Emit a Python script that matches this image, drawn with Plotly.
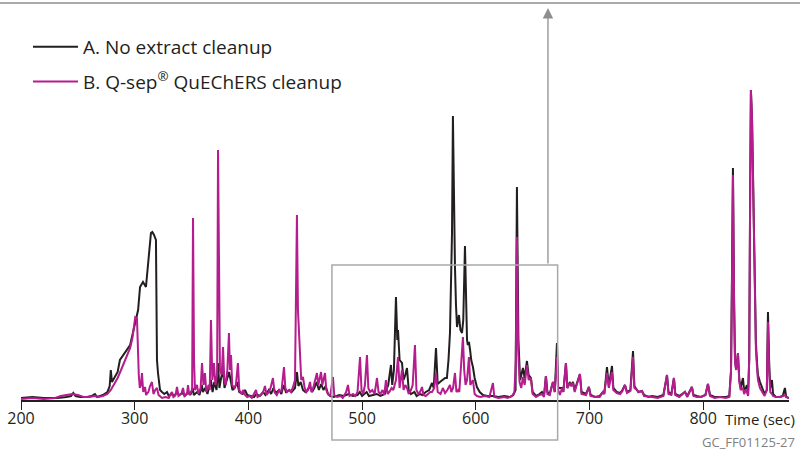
import plotly.graph_objects as go

# ---- data (time in s, detector response in arbitrary units) ----
trace_a_points = [
    (200,2),(210,3),(220,2),(232,2),(240,3),(244,4),(246,7),(248,4),(252,3),(258,3),(262,4),(265,6),(267,3),
    (272,5),(276,8),(278,14),(279,30),(280,18),(282,22),(285,28),(287,40),(290,45),(293,50),(296,55),(299,70),
    (301,80),(303,90),(304.7,113),(307.3,118),(309.9,113),(311.7,133),(313,150),(314.3,167),(315.5,168),(317,165),
    (318.7,160),(319.6,40),(320.5,27),(321.5,18),(322.3,10),(324,8),(326,6),(328.4,8),(330,4),(333,6),(335,4),
    (337,8),(339,5),(342,7),(344,4),(347,8),(349,5),(351,12),(352,5),(355,8),(357,5),(359,15),(360,8),(362,12),
    (364,6),(367,20),(368.5,8),(370,18),(372,10),(373.3,37),(374.5,12),(376,22),(377.7,30),(379,12),(381,20),
    (383,28),(384.7,18),(386,10),(388,12),(390,18),(392,8),(395,6),(397,10),(399,5),(402,4),(405,3),(407,6),
    (410,4),(413,8),(415,5),(418,10),(420,6),(422,12),(424,7),(427,10),(429,6),(431,15),(433,8),(436,10),
    (438,8),(441,12),(442.7,28),(444,14),(446,18),(448,10),(450,8),(452,10),(454,14),(456,8),(458,12),(460,18),
    (462,10),(464,16),(466,10),(468,14),(470,6),(472,4),(475,3),(480,5),(484,4),(488,6),(492,4),(496,5),(498,8),
    (500,4),(504,8),(506,4),(510,5),(513,6),(516,4),(520,6),(523,15),(525.4,35),(526.5,15),(528,30),(529.8,103),
    (531,60),(531.6,70),(533,40),(535.1,37),(536.5,20),(538,25),(539.5,32),(541,10),(543,6),(546,8),(548,4),
    (551,6),(553,5),(556,8),(559,10),(561.5,17),(563,12),(565,52),(566.5,16),(568.5,18),(571,20),(573,22),
    (574.6,22),(576,40),(577.3,67),(578.5,120),(579.1,167),(579.9,284),(580.8,200),(581.7,133),(582.6,95),
    (583.5,73),(585.2,85),(586.5,70),(587.9,67),(589,80),(590.5,154),(591.5,90),(592.3,60),(593,55),(594,58),
    (595,50),(596,40),(597.5,33),(599,22),(601,13),(603.5,8),(606.3,5),(610,4),(615,4),(620,3),(625,4),(630,3),
    (633,5),(635,10),(636.2,213),(637.5,60),(639,20),(641.5,32),(643,22),(645,39),(646.5,25),(648.5,22),(650,8),
    (653,4),(656,6),(658.2,8),(660,4),(661.7,24),(663,8),(665,6),(667.9,18),(669.5,8),(671.4,57),(672.5,12),
    (675.8,12),(677,8),(679.3,37),(680.5,12),(682.8,18),(684,14),(685.5,18),(687,10),(691.6,26),(693,8),(697,6),
    (699.5,13),(701,5),(705,3),(709,4),(711.9,8),(713,6),(715.4,33),(717,14),(719.8,34),(721,12),(724,8),(727,7),
    (729,10),(731.2,15),(733,8),(736,10),(738.3,49),(739.5,14),(741.8,10),(743,8),(746.2,9),(748,5),(752,3),
    (755,4),(760,3),(765,5),(768.2,25),(769.5,8),(772,6),(774.3,22),(775.5,6),(779,4),(784,8),(786,4),(790.1,13),
    (791.5,5),(794.5,4),(798,3),(802,5),(804.2,16),(806,5),(810,3),(815,3),(820,3),(823,4),(824.5,30),(825.3,120),
    (826.2,232),(827.2,100),(828,40),(829,30),(830.6,47),(831.8,20),(833,12),(835,22),(836,10),(837.5,12),
    (838.5,15),(839.5,5),(840.5,40),(841.3,200),(842,310),(843,280),(844,200),(845.5,117),(846.4,57),(847.5,35),
    (848.2,25),(850,18),(852.6,10),(854,6),(856,10),(857,88),(858,40),(859,12),(860.5,20),(861.5,6),(864,3),
    (867.5,3),(870,4),(871.9,12),(873,3),(875.5,2),
]

trace_b_points = [
    (200,1),(210,2),(220,1),(230,2),(235,4),(240,5),(245,6),(250,5),(255,3),(260,3),(265,4),(268,3),(272,4),
    (276,6),(279,10),(282,16),(285,22),(288,30),(291,38),(294,45),(296,52),(298,62),(299.4,75),(300.5,83),
    (302,82),(302.9,40),(303.6,25),(304.5,12),(305.5,15),(306.4,27),(307.5,8),(309.1,13),(310,5),(312,8),
    (313.5,14),(315.2,18),(316.5,6),(318,10),(319.6,12),(321,5),(322.3,4),(324,2),(327,3),(330,2),(331.5,6),
    (332.8,8),(334,3),(336,5),(337.2,13),(338.5,4),(341,6),(342.5,12),(343.8,4),(346,6),(346.9,15),(348,5),
    (350.5,10),(351.3,182),(352.2,40),(353,10),(354.8,15),(356,6),(358,12),(359.2,37),(360.5,15),(361.8,27),
    (363,8),(365,15),(366,10),(367.1,80),(368.3,20),(369.7,37),(371,15),(372.5,25),(373.3,250),(374.2,60),
    (375,30),(376.5,25),(377.7,53),(378.8,20),(380,15),(381.5,30),(382.9,67),(383.8,30),(384.7,45),(385.8,15),
    (387.5,12),(389,15),(390.8,37),(392,10),(394,6),(395.5,10),(397,5),(399,3),(401,4),(403,2),(405,6),
    (406.7,10),(408,3),(411,5),(413,8),(414.6,14),(416,5),(418,8),(419.5,12),(421.6,22),(423,8),(425,5),
    (427,10),(429,8),(431.3,33),(432.5,12),(434,8),(436,10),(437.5,8),(439,12),(441,20),(442.0,100),(442.7,185),
    (443.6,90),(444.5,65),(445.4,40),(446.5,20),(448,23),(449.5,12),(451,8),(452.5,10),(454.2,18),(455.5,8),
    (457,12),(458.5,20),(460.3,27),(461.5,15),(463.9,28),(465,15),(467.4,27),(468.5,10),(470,6),(472,4),
    (474.4,23),(475.5,5),(478,3),(481,4),(483,2),(486,8),(487.6,15),(489,4),(492,6),(494,4),(496,8),(498.2,43),
    (499.5,10),(501,6),(502.5,15),(504.3,45),(505.5,12),(507,8),(509,10),(511,6),(513.1,22),(514.5,8),(516,6),
    (518,10),(519.5,5),(521,20),(522.5,6),(524,8),(526,12),(527.5,10),(529.8,20),(531.6,43),(533,12),(535.1,30),
    (536.5,10),(538,15),(539.5,12),(541,6),(543,10),(544.5,15),(546.5,55),(547.8,10),(549.5,6),(551,8),
    (552.7,13),(554,5),(556,4),(558,6),(560,8),(561.5,8),(563.5,12),(565,27),(566.5,8),(569,6),(571,12),(573,7),
    (575,10),(577.3,15),(578.5,8),(580,12),(581.7,27),(583,8),(584.5,10),(585.5,8),(586.5,25),(587.9,50),
    (588.7,63),(589.8,30),(591,15),(592.3,20),(594,43),(595.2,15),(597.5,20),(599,6),(601,4),(604,3),(608,4),
    (612,3),(615.1,17),(616.3,3),(620,2),(625,3),(628,2),(632,4),(634,8),(635.2,40),(636.2,163),(637.3,50),
    (638.5,18),(640,12),(641.5,23),(643,15),(645,35),(646.5,20),(648.5,22),(650,6),(653,3),(656,5),(658.2,6),
    (660,3),(661.7,24),(663,6),(665,5),(666.5,12),(667.9,18),(669.5,8),(671.4,43),(672.5,10),(674,5),(675.8,12),
    (677,8),(679.3,37),(680.5,12),(682.8,17),(684,14),(685.5,17),(687,8),(691.6,26),(693,6),(697,5),(699.5,13),
    (701,4),(705,3),(709,3),(711.9,8),(713,6),(715.4,27),(717,12),(719.8,28),(721,10),(724,7),(727,6),(729,9),
    (731.2,15),(733,7),(736,9),(738.3,43),(739.5,12),(741.8,10),(743,8),(746.2,9),(748,4),(752,3),(755,3),
    (760,2),(765,4),(768.2,25),(769.5,6),(772,5),(774.3,22),(775.5,5),(779,3),(784,8),(786,3),(790.1,13),
    (791.5,4),(794.5,3),(798,3),(802,5),(804.2,16),(806,4),(810,2),(815,3),(820,2),(823,3),(824.5,28),
    (825.3,110),(826.2,225),(827.2,95),(828,38),(829,30),(830.6,47),(831.8,18),(833,10),(835,12),(836,6),
    (837.5,10),(838.5,8),(839.5,4),(840.5,40),(841.3,200),(842,310),(843,280),(844,200),(845.5,117),(846.4,50),
    (847.5,30),(848.2,20),(850,12),(852.6,6),(854,4),(856,10),(857,78),(858,30),(859,8),(860.5,6),(861.5,4),
    (864,3),(867.5,3),(870,4),(871.9,5),(873,3),(875.5,2),
]

series_names = ["A. No extract cleanup", "B. Q-sep<sup>\u00ae</sup> QuEChERS cleanup"]
series_colors = ["#231f20", "#b51c8d"]
tick_values = [200, 300, 400, 500, 600, 700, 800]
tick_labels = ["200", "300", "400", "500", "600", "700", "800"]
x_range = [200, 875.5]
y_range = [0, 400]
zoom_box = [473.5, 672]     # time window of the highlighted region
zoom_box_top = 135          # response level of the box top
arrow_x = 663.5
arrow_top = 392

FONT = "Open Sans"

fig = go.Figure()
for pts, name, col, grp in [(trace_a_points, series_names[0], series_colors[0], "a"),
                            (trace_b_points, series_names[1], series_colors[1], "b")]:
    fig.add_trace(go.Scatter(
        x=[p[0] for p in pts], y=[p[1] for p in pts], mode="lines", name=name,
        legendgroup=grp, line=dict(color=col, width=2), hoverinfo="skip"))

W, H = 800, 455
ml, mr, mt, mb = 21, 11, 0, 55
pw, ph = W - ml - mr, H - mt - mb

fig.update_layout(
    width=W, height=H, margin=dict(l=ml, r=mr, t=mt, b=mb),
    paper_bgcolor="white", plot_bgcolor="white",
    font=dict(family=FONT, color="#231f20"),
    showlegend=True,
    legend=dict(x=(28 - ml) / pw, y=(ph - 28) / ph, xanchor="left", yanchor="top",
                font=dict(size=19, family=FONT, color="#231f20"),
                bgcolor="rgba(0,0,0,0)", tracegroupgap=7, itemwidth=45),
    xaxis=dict(range=x_range, tickvals=tick_values, ticktext=tick_labels,
               showgrid=False, zeroline=False, showline=True, linecolor="#231f20",
               linewidth=1.5, ticks="outside", ticklen=8, tickwidth=1.2,
               tickcolor="#231f20", ticklabelstandoff=-5,
               tickfont=dict(size=16, family=FONT, color="#231f20")),
    yaxis=dict(range=y_range, visible=False, showgrid=False, zeroline=False),
)

# top border line
fig.add_shape(type="line", xref="paper", yref="paper",
              x0=-ml / pw, x1=1 + mr / pw, y0=(ph - 3) / ph, y1=(ph - 3) / ph,
              line=dict(color="#8e8e8e", width=1.5))
# highlighted region box
fig.add_shape(type="rect", xref="x", yref="paper",
              x0=zoom_box[0], x1=zoom_box[1], y0=-40 / ph, y1=zoom_box_top / (y_range[1] - y_range[0]),
              line=dict(color="#a7a9ac", width=1.5), fillcolor="rgba(0,0,0,0)")
# arrow
fig.add_annotation(x=arrow_x, y=arrow_top, ax=arrow_x, ay=zoom_box_top, axref="x", ayref="y",
                   xref="x", yref="y", text="", showarrow=True, arrowhead=2, arrowsize=1.6,
                   arrowwidth=1.3, arrowcolor="#8e8e8e")

fig.add_annotation(x=(797 - ml) / pw, y=-19 / ph, xref="paper", yref="paper", text="Time (sec)",
                   showarrow=False, xanchor="right", yanchor="middle",
                   font=dict(size=15, family=FONT, color="#231f20"))
fig.add_annotation(x=(797 - ml) / pw, y=-42 / ph, xref="paper", yref="paper", text="GC_FF01125-27",
                   showarrow=False, xanchor="right", yanchor="middle",
                   font=dict(size=13, family=FONT, color="#808080"))

fig.write_html("out.html", config={"displayModeBar": False},
               post_script="document.body.style.margin='0';")
